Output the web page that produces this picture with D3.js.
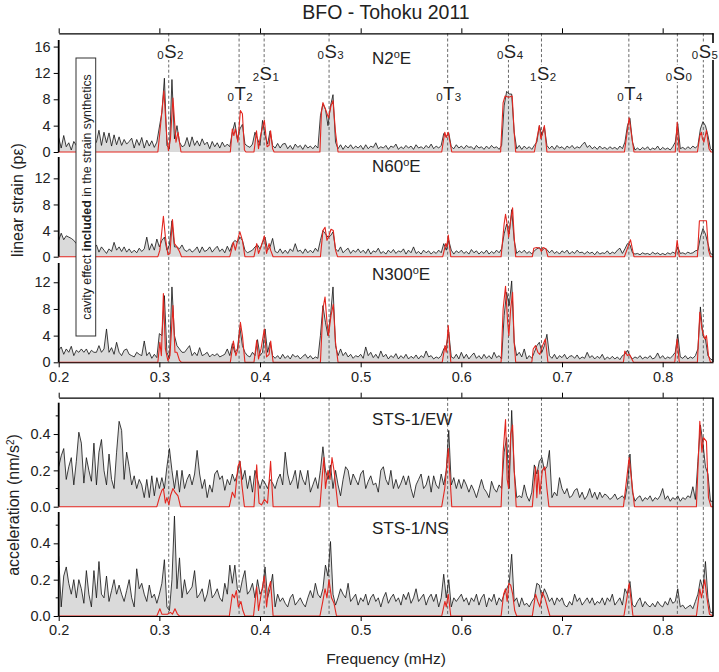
<!DOCTYPE html>
<html><head><meta charset="utf-8">
<script src="https://cdn.jsdelivr.net/npm/d3@7"></script>
<style>
body{margin:0;background:#fff}
svg{display:block}
text{font-family:"Liberation Sans",Arial,Helvetica,sans-serif;fill:#222}
</style>
</head><body>
<svg id="c" width="719" height="672"></svg>
<script>
// ---------- DATA ----------
const freqStart = 0.2, freqStep = 0.0025;   // observed spectra sampled every 0.0025 mHz from 0.2 to 0.85
const xTicks = [0.2,0.3,0.4,0.5,0.6,0.7,0.8];
const strainTicks = [0,4,8,12,16];
const strainTicks2 = [0,4,8,12];
const accTicks = [0,0.2,0.4];
const accMinor = [0.1,0.3,0.5];

const obsN2E = [
2.2,0.6,2.5,0.8,1.4,0.3,1.6,1.0,1.5,2.0,
1.2,1.8,0.9,1.6,1.1,1.5,3.3,1.0,3.0,1.4,
2.9,0.9,2.6,1.1,2.3,1.0,1.9,1.2,1.6,2.1,
0.6,1.9,1.0,2.2,0.6,1.8,0.9,1.7,0.7,1.5,
3.8,6.0,11.2,1.0,0.5,11.0,2.0,4.0,1.5,0.8,
1.0,2.2,0.8,2.3,1.0,1.7,0.9,2.0,1.1,1.5,
0.5,1.6,0.8,1.4,0.6,1.5,0.8,1.2,0.8,3.0,
4.5,2.0,3.5,4.2,1.2,0.9,0.7,1.2,3.0,2.0,
1.0,4.8,2.5,1.2,3.2,1.0,0.6,1.3,0.6,1.2,
1.3,0.5,1.0,0.4,1.2,0.7,1.0,0.4,1.1,0.6,
0.9,0.5,1.0,0.6,5.5,7.3,6.5,4.0,7.0,8.7,
1.5,0.5,1.1,0.4,1.0,0.6,1.1,0.5,0.9,0.6,
1.0,0.4,1.1,0.5,0.9,0.7,1.4,0.5,0.8,0.6,
1.0,0.4,0.9,0.7,1.2,0.4,0.8,0.5,1.0,0.6,
0.9,0.4,1.1,0.6,0.8,0.5,1.0,0.6,1.2,0.5,
0.9,0.6,1.0,2.8,2.3,2.9,0.8,0.5,1.1,0.6,
0.9,0.5,1.0,0.7,0.8,0.4,1.0,0.6,0.8,0.4,
0.9,0.5,1.0,0.6,0.8,0.4,1.0,7.0,9.2,8.8,
8.8,3.0,0.5,1.0,0.4,0.9,0.5,0.8,0.4,1.0,
1.5,4.0,2.5,3.8,1.0,0.5,0.9,0.4,1.0,0.6,
0.8,0.4,0.9,0.6,1.0,0.5,0.8,0.6,1.1,1.5,
0.7,1.0,0.5,0.8,0.4,0.9,0.5,0.7,0.4,0.8,
0.5,0.7,0.4,0.9,0.5,1.5,4.0,5.1,1.5,0.3,
0.6,0.3,0.7,0.4,0.8,0.3,0.6,0.4,0.9,0.3,
0.7,0.4,0.6,0.3,0.8,1.5,4.3,0.5,0.7,0.4,
0.8,0.5,0.9,0.6,1.0,3.5,4.6,4.0,2.5,0.5,0.2];

const obsN60E = [
2.5,3.6,2.6,3.2,3.0,2.8,2.5,2.0,1.8,1.5,
1.5,1.2,1.4,1.0,1.3,1.8,0.7,1.5,1.0,0.5,
1.2,0.8,2.2,1.0,1.5,0.8,1.5,0.7,1.2,0.6,
1.0,0.6,1.3,0.8,1.2,3.0,1.0,2.0,1.0,2.7,
1.5,2.5,3.0,1.0,1.8,5.5,1.5,1.5,1.2,1.8,
1.0,0.8,1.2,0.7,1.0,1.5,0.6,1.5,0.8,1.0,
1.5,0.7,1.2,1.6,0.8,1.2,0.6,1.6,0.8,2.0,
2.5,2.2,3.0,2.5,1.0,0.6,0.8,1.0,1.5,1.8,
1.2,2.2,3.0,1.0,1.5,2.8,0.8,0.6,1.2,0.5,
1.0,0.5,1.2,0.8,2.0,0.8,1.0,0.5,1.2,0.6,
1.0,0.6,1.3,0.8,2.5,4.0,3.5,3.0,3.2,3.8,
1.2,0.8,1.5,0.6,1.0,1.3,0.5,1.0,0.7,1.2,
0.6,1.0,0.5,1.2,0.4,0.9,0.7,1.3,0.5,0.8,
0.4,1.0,0.6,1.1,0.5,0.9,0.7,1.2,0.4,1.0,
0.6,1.5,0.5,0.8,0.4,1.0,0.6,0.9,0.4,0.8,
0.5,1.0,0.6,2.0,1.0,2.5,1.0,0.4,0.9,0.6,
1.0,0.5,0.8,0.4,1.1,0.6,0.9,0.4,0.8,0.5,
1.0,0.4,0.8,0.5,1.0,0.6,1.2,3.5,5.0,3.5,
7.2,2.5,0.5,0.9,0.6,1.0,0.5,0.8,0.4,0.9,
1.2,1.4,0.9,1.3,1.1,0.6,1.0,0.5,0.8,0.4,
0.9,0.6,1.0,0.4,0.8,0.5,1.0,0.6,0.7,0.4,
0.8,0.5,0.7,0.3,0.8,0.4,0.6,0.5,0.9,0.4,
0.7,0.5,1.0,1.3,0.5,1.2,2.0,1.8,0.6,0.4,
0.5,0.3,0.6,0.4,0.5,0.3,0.7,0.4,0.6,0.3,
0.5,0.3,0.6,0.4,0.7,0.5,1.5,0.5,0.6,0.4,
0.7,0.5,0.6,0.9,1.0,3.0,4.3,3.5,2.0,0.5,0.3];

const obsN300E = [
1.8,2.3,1.2,2.0,1.5,2.4,1.0,1.8,1.5,2.0,
1.5,2.0,1.2,1.8,1.5,1.5,2.5,1.5,2.0,5.0,
1.5,2.2,1.2,3.0,1.5,1.0,1.8,2.0,1.2,1.0,
0.8,1.5,1.2,1.0,3.2,1.0,1.5,0.6,1.2,0.7,
4.3,4.0,10.0,1.5,0.6,11.3,4.0,2.5,2.0,1.5,
1.5,2.0,2.5,1.0,1.5,1.0,2.2,1.0,1.2,1.5,
0.8,1.2,1.0,1.3,0.8,1.0,1.2,2.0,1.0,2.8,
1.5,2.0,5.2,2.5,1.5,1.0,0.8,1.5,1.0,3.4,
1.0,1.5,5.0,1.5,3.0,1.0,0.6,1.0,0.5,1.2,
0.6,1.0,0.5,1.2,0.8,1.0,0.5,0.9,1.2,0.6,
1.0,0.5,0.8,0.6,4.0,8.5,6.0,4.0,7.0,11.3,
2.5,1.0,2.0,1.0,1.5,0.8,1.2,0.6,1.0,0.8,
1.2,0.6,2.3,1.0,1.5,0.7,1.2,0.6,1.7,0.8,
1.2,0.5,1.0,0.7,1.3,0.5,1.0,0.6,1.2,0.5,
0.9,0.6,1.1,0.5,1.0,0.7,1.7,0.8,1.0,0.5,
0.8,0.6,1.0,2.0,2.5,4.5,0.8,0.6,1.2,0.5,
1.5,0.6,1.2,0.5,1.0,1.4,0.6,1.0,0.5,1.2,
0.6,1.0,0.5,1.5,0.7,1.0,0.5,7.0,10.5,8.5,
12.2,3.0,1.0,1.5,0.8,2.0,0.5,1.0,0.6,1.5,
2.5,3.0,1.5,2.5,4.2,1.0,0.6,1.2,0.5,1.0,
0.7,1.2,0.5,0.9,1.0,0.6,1.1,0.5,0.8,0.6,
1.5,0.7,1.0,0.5,0.9,0.6,1.2,0.4,0.8,0.5,
0.9,0.5,0.8,0.4,1.0,1.2,1.8,1.0,0.5,0.8,
0.6,1.0,0.5,0.8,0.6,1.0,0.5,0.7,1.4,0.6,
1.0,0.5,0.8,0.6,1.0,1.5,4.2,0.8,0.6,1.0,
0.5,0.8,0.6,1.0,2.0,8.3,4.0,3.5,1.0,0.5,0.3];

const obsEW = [
0.22,0.28,0.32,0.15,0.22,0.27,0.12,0.25,0.41,0.35,
0.13,0.27,0.20,0.14,0.35,0.12,0.30,0.37,0.20,0.12,
0.29,0.15,0.10,0.30,0.47,0.42,0.15,0.30,0.22,0.12,
0.17,0.10,0.15,0.12,0.05,0.15,0.05,0.17,0.06,0.16,
0.10,0.16,0.10,0.22,0.32,0.20,0.10,0.20,0.08,0.20,
0.10,0.15,0.18,0.12,0.18,0.31,0.18,0.10,0.15,0.05,
0.12,0.08,0.18,0.20,0.15,0.17,0.09,0.15,0.12,0.18,
0.14,0.18,0.25,0.15,0.20,0.10,0.17,0.08,0.20,0.15,
0.10,0.15,0.13,0.10,0.15,0.13,0.10,0.15,0.18,0.12,
0.30,0.18,0.12,0.15,0.20,0.10,0.20,0.15,0.12,0.20,
0.08,0.12,0.16,0.10,0.20,0.33,0.20,0.15,0.23,0.10,
0.20,0.12,0.06,0.15,0.22,0.20,0.12,0.18,0.15,0.12,
0.18,0.20,0.10,0.14,0.17,0.12,0.13,0.08,0.20,0.22,
0.15,0.12,0.20,0.10,0.15,0.10,0.13,0.17,0.12,0.17,
0.10,0.05,0.12,0.15,0.18,0.10,0.12,0.17,0.08,0.17,
0.12,0.10,0.18,0.12,0.20,0.42,0.12,0.16,0.10,0.15,
0.10,0.15,0.12,0.08,0.12,0.09,0.05,0.10,0.15,0.10,
0.08,0.05,0.14,0.10,0.08,0.12,0.10,0.30,0.38,0.10,
0.53,0.20,0.05,0.06,0.05,0.12,0.06,0.03,0.08,0.23,
0.18,0.25,0.27,0.20,0.22,0.31,0.05,0.08,0.06,0.16,
0.10,0.07,0.10,0.05,0.06,0.09,0.10,0.05,0.08,0.04,
0.06,0.10,0.05,0.08,0.04,0.08,0.05,0.07,0.06,0.04,
0.05,0.07,0.04,0.05,0.06,0.04,0.12,0.29,0.08,0.03,
0.05,0.06,0.03,0.05,0.04,0.06,0.03,0.05,0.04,0.06,
0.10,0.04,0.06,0.03,0.05,0.04,0.06,0.03,0.05,0.04,
0.06,0.05,0.11,0.04,0.25,0.45,0.35,0.22,0.18,0.03,0.03];

const obsNS = [
0.33,0.05,0.22,0.27,0.18,0.12,0.20,0.10,0.20,0.15,
0.07,0.25,0.12,0.05,0.25,0.10,0.30,0.12,0.10,0.22,
0.08,0.14,0.20,0.12,0.17,0.12,0.08,0.14,0.20,0.10,
0.05,0.26,0.15,0.18,0.12,0.08,0.17,0.10,0.12,0.07,
0.12,0.18,0.31,0.05,0.03,0.20,0.55,0.15,0.32,0.10,
0.20,0.12,0.14,0.16,0.25,0.10,0.12,0.15,0.08,0.12,
0.20,0.10,0.12,0.15,0.10,0.08,0.18,0.12,0.28,0.18,
0.28,0.15,0.13,0.20,0.25,0.12,0.14,0.18,0.10,0.20,
0.12,0.15,0.27,0.10,0.15,0.23,0.05,0.12,0.08,0.10,
0.07,0.05,0.10,0.12,0.06,0.08,0.10,0.07,0.05,0.10,
0.14,0.10,0.18,0.12,0.10,0.15,0.28,0.22,0.41,0.12,
0.06,0.10,0.15,0.12,0.10,0.18,0.08,0.10,0.12,0.06,
0.10,0.08,0.12,0.06,0.10,0.12,0.08,0.10,0.05,0.10,
0.13,0.07,0.10,0.12,0.08,0.10,0.06,0.12,0.09,0.13,
0.07,0.10,0.15,0.08,0.10,0.12,0.06,0.10,0.12,0.08,
0.12,0.05,0.10,0.23,0.10,0.20,0.05,0.10,0.08,0.10,
0.12,0.08,0.10,0.06,0.10,0.08,0.12,0.06,0.10,0.12,
0.05,0.10,0.08,0.12,0.06,0.10,0.08,0.12,0.15,0.18,
0.34,0.08,0.10,0.05,0.10,0.06,0.07,0.05,0.08,0.10,
0.18,0.17,0.10,0.15,0.12,0.08,0.10,0.06,0.10,0.08,
0.10,0.06,0.05,0.08,0.06,0.12,0.08,0.10,0.06,0.08,
0.10,0.07,0.10,0.06,0.08,0.07,0.10,0.06,0.10,0.08,
0.12,0.06,0.08,0.10,0.06,0.15,0.12,0.19,0.06,0.05,
0.08,0.10,0.05,0.08,0.06,0.05,0.07,0.05,0.08,0.06,
0.05,0.08,0.06,0.10,0.07,0.08,0.15,0.05,0.06,0.04,
0.05,0.06,0.04,0.08,0.12,0.20,0.15,0.30,0.10,0.02,0.02];

// synthetics: [frequency (mHz), amplitude]
const synN2E = [[0.2,0],[0.2985,0],[0.3005,3],[0.3045,9.3],[0.3075,2],[0.309,0.2],[0.311,2],[0.3135,8.2],[0.3165,1.5],[0.3185,3],[0.3215,0],
[0.3705,0],[0.3725,3.5],[0.374,2.5],[0.3755,3.5],[0.378,1.5],[0.3805,6.3],[0.3825,5.8],[0.3845,0.3],[0.386,0],
[0.394,0],[0.3965,3.2],[0.3985,0.5],[0.4005,2.5],[0.4043,4.8],[0.407,0.8],[0.409,1],[0.4105,3.2],[0.4125,0.5],[0.414,0],
[0.4595,0],[0.461,6],[0.4625,7.5],[0.465,6.5],[0.468,5.2],[0.4705,7],[0.4725,7.8],[0.475,3],[0.4775,0],
[0.5805,0],[0.5835,3],[0.585,2.2],[0.587,3],[0.5905,0],
[0.639,0],[0.6415,7.5],[0.6435,8.5],[0.647,8.3],[0.6505,8.5],[0.6525,3],[0.654,0],
[0.6725,0],[0.6775,4],[0.679,2],[0.6825,4],[0.685,0],
[0.762,0],[0.7667,5.2],[0.7715,0],
[0.8125,0],[0.8144,4.5],[0.8165,0],
[0.8345,0],[0.837,2.5],[0.8385,3],[0.8395,2],[0.841,1.5],[0.8435,3.3],[0.846,0.5],[0.848,0],[0.85,0]];

const synN60E = [[0.2,0],[0.2985,0],[0.3005,1],[0.304,6.2],[0.306,3],[0.3085,0.3],[0.3105,0.5],[0.313,5.7],[0.315,2],[0.3175,1.5],[0.32,0.8],[0.322,0],
[0.37,0],[0.3735,2.2],[0.3755,1],[0.3785,3],[0.38,3.8],[0.3825,2.5],[0.385,0],
[0.394,0],[0.3967,2],[0.3985,0.5],[0.401,1.5],[0.4043,3.2],[0.4065,0.5],[0.409,2],[0.4105,1],[0.413,0],
[0.46,0],[0.4625,4],[0.4646,4.5],[0.4665,2.5],[0.468,3],[0.4705,4.2],[0.4728,4],[0.475,1],[0.477,0],
[0.5815,0],[0.5845,2],[0.5855,1.5],[0.587,3.3],[0.5895,0],
[0.6395,0],[0.6425,5],[0.6439,6.5],[0.6455,5],[0.647,3],[0.6485,5],[0.6509,7.5],[0.6525,3],[0.654,0],
[0.6705,0],[0.672,1.3],[0.675,1.4],[0.678,1.3],[0.6795,0.8],[0.681,1.4],[0.684,1.2],[0.686,0],
[0.762,0],[0.7655,1.5],[0.768,2.6],[0.7715,0],
[0.8125,0],[0.8144,2.5],[0.8165,0],
[0.8345,0],[0.8365,5.5],[0.8435,5.5],[0.8455,1],[0.8475,0],[0.85,0]];

const synN300E = [[0.2,0],[0.2985,0],[0.3005,3],[0.302,1],[0.304,10.3],[0.306,2],[0.3085,0.2],[0.3105,1],[0.3135,8.5],[0.3155,1.5],[0.3175,1.5],[0.32,0.3],[0.322,0],
[0.3705,0],[0.3735,3.2],[0.376,1],[0.378,2],[0.3805,6],[0.3825,4],[0.385,0],
[0.394,0],[0.3967,3.3],[0.3985,0.5],[0.401,2],[0.4043,5],[0.4065,0.8],[0.409,1.2],[0.4106,3.2],[0.413,0],
[0.46,0],[0.4625,8],[0.4646,9.8],[0.4665,6],[0.468,4],[0.4705,7],[0.4728,8.7],[0.475,3],[0.4775,0],
[0.581,0],[0.5837,2.5],[0.585,1.5],[0.587,5.5],[0.5895,0],
[0.6395,0],[0.6415,8],[0.6439,11.4],[0.646,6],[0.6472,4],[0.649,8],[0.6509,10.5],[0.6525,3],[0.654,0],
[0.67,0],[0.6714,2],[0.6737,2.5],[0.676,1.5],[0.678,1.2],[0.6807,2.5],[0.6835,3.5],[0.686,0],
[0.761,0],[0.7624,1.7],[0.765,1],[0.767,1.2],[0.771,0],
[0.812,0],[0.8144,3.5],[0.8165,0],
[0.8345,0],[0.8369,7.5],[0.839,5],[0.8418,3.5],[0.8435,4],[0.8455,1],[0.8475,0],[0.85,0]];

const synEW = [[0.2,0],[0.2975,0],[0.3,0.05],[0.3025,0.09],[0.304,0.1],[0.306,0.02],[0.3075,0.05],[0.3095,0.01],[0.311,0.06],[0.3135,0.1],[0.3155,0.08],[0.3185,0.06],[0.321,0],
[0.3695,0],[0.3725,0.08],[0.375,0.05],[0.378,0.22],[0.3801,0.25],[0.382,0.12],[0.3845,0],
[0.394,0],[0.3967,0.23],[0.399,0.02],[0.4015,0.01],[0.4043,0.04],[0.4075,0.02],[0.4105,0.25],[0.413,0],
[0.4595,0],[0.462,0.18],[0.4635,0.27],[0.465,0.1],[0.4675,0.2],[0.4695,0.15],[0.4715,0.27],[0.4735,0.2],[0.4755,0.1],[0.4775,0],
[0.5805,0],[0.5835,0.1],[0.587,0.32],[0.5905,0],
[0.6395,0],[0.6415,0.3],[0.6439,0.48],[0.6455,0.15],[0.647,0.1],[0.649,0.4],[0.6509,0.45],[0.6525,0.2],[0.6545,0],
[0.6705,0],[0.6737,0.22],[0.675,0.05],[0.6764,0.2],[0.678,0.07],[0.6805,0.2],[0.683,0.22],[0.685,0.1],[0.687,0],
[0.761,0],[0.7667,0.27],[0.772,0],
[0.8335,0],[0.8369,0.47],[0.839,0.3],[0.8405,0.38],[0.8435,0.36],[0.8455,0.05],[0.848,0],[0.85,0]];

const synNS = [[0.2,0],[0.2975,0],[0.3005,0.04],[0.3025,0.01],[0.305,0.01],[0.308,0.01],[0.311,0.02],[0.313,0.01],[0.3155,0.04],[0.318,0.01],[0.32,0],
[0.3695,0],[0.3725,0.12],[0.3745,0.1],[0.3765,0.14],[0.3785,0.05],[0.381,0.08],[0.383,0.03],[0.385,0],
[0.3935,0],[0.3967,0.16],[0.3985,0.03],[0.4005,0.1],[0.4043,0.22],[0.4065,0.05],[0.4085,0.15],[0.4105,0.19],[0.413,0],
[0.4595,0],[0.462,0.07],[0.4646,0.15],[0.4665,0.1],[0.4685,0.2],[0.471,0.1],[0.4735,0.07],[0.476,0],
[0.5805,0],[0.5837,0.08],[0.585,0.05],[0.587,0.12],[0.5895,0],
[0.6395,0],[0.642,0.12],[0.6439,0.15],[0.6455,0.08],[0.6472,0.18],[0.649,0.17],[0.651,0.12],[0.653,0.03],[0.655,0],
[0.6705,0],[0.6737,0.12],[0.676,0.08],[0.678,0.05],[0.6805,0.13],[0.683,0.1],[0.685,0.06],[0.688,0],
[0.7615,0],[0.7645,0.1],[0.7667,0.18],[0.7705,0],
[0.8335,0],[0.8369,0.15],[0.8385,0.1],[0.8418,0.2],[0.844,0.1],[0.8465,0.01],[0.85,0]];

// normal modes: overtone n, type, degree l, frequency (mHz), label row
const modeN = ["0","0","2","0","0","0","1","0","0","0"];
const modeType = ["S","T","S","S","T","S","S","T","S","S"];
const modeL = ["2","2","1","3","3","4","2","4","0","5"];
const modeFreq = [0.3093,0.3792,0.4041,0.4686,0.5864,0.6468,0.6796,0.7664,0.8146,0.8404];
const modeRow = [0,2,1,0,2,0,1,2,1,0];

// ---------- DRAW ----------
const svg = d3.select("#c");
const x = d3.scaleLinear().domain([0.2, 0.85]).range([58.7, 713]);
const FONT = '"Liberation Sans",Arial,Helvetica,sans-serif';

const panels = [
  {obs:obsN2E,  syn:synN2E,  yb:152,   yt:40,    max:17.0,  ticks:strainTicks,  fmt:d3.format("d"),   name:["N2","o","E"],   ly:63.5},
  {obs:obsN60E, syn:synN60E, yb:256.7, yt:157,   max:15.27, ticks:strainTicks2, fmt:d3.format("d"),   name:["N60","o","E"],  ly:171.5},
  {obs:obsN300E,syn:synN300E,yb:362.3, yt:263,   max:14.89, ticks:strainTicks2, fmt:d3.format("d"),   name:["N300","o","E"], ly:280},
  {obs:obsEW,   syn:synEW,   yb:506.7, yt:402.7, max:0.5725,ticks:accTicks,     fmt:d3.format(".1f"), name:["STS-1/EW"],     ly:425, minor:accMinor},
  {obs:obsNS,   syn:synNS,   yb:616,   yt:512,   max:0.5725,ticks:accTicks,     fmt:d3.format(".1f"), name:["STS-1/NS"],     ly:533.5, minor:accMinor}
];
panels.forEach(p => { p.y = d3.scaleLinear().domain([0, p.max]).range([p.yb, p.yt]); 
  p.pts = p.obs.map((v,i)=>[freqStart + freqStep*i, v]); });

const gFill = svg.append("g"), gDash = svg.append("g"), gLine = svg.append("g"), gAxis = svg.append("g"), gText = svg.append("g");

// fills
panels.forEach(p => {
  gFill.append("path").datum(p.pts)
    .attr("d", d3.area().x(d=>x(d[0])).y0(p.y(0)).y1(d=>p.y(d[1])))
    .attr("fill", "#dadada");
});

// dashed mode lines
const groups = [[33.3, 362.3],[397.7, 616]];
groups.forEach(g => {
  gDash.selectAll(null).data(modeFreq).enter().append("line")
    .attr("x1", d=>x(d)).attr("x2", d=>x(d)).attr("y1", g[0]).attr("y2", g[1])
    .attr("stroke", "#444").attr("stroke-width", 0.8).attr("stroke-dasharray", "3,2.2");
});

// lines
panels.forEach(p => {
  const line = d3.line().x(d=>x(d[0])).y(d=>p.y(d[1]));
  gLine.append("path").datum(p.pts).attr("d", line)
    .attr("fill","none").attr("stroke","#111").attr("stroke-width",0.8).attr("stroke-linejoin","round");
  gLine.append("path").datum(p.syn).attr("d", line)
    .attr("fill","none").attr("stroke","#e3261f").attr("stroke-width",1.1).attr("stroke-linejoin","round");
});

// axes
function styleAxis(sel, fs){
  sel.selectAll("path.domain").attr("stroke","#000").attr("stroke-width",1.3);
  sel.selectAll(".tick line").attr("stroke","#000").attr("stroke-width",1);
  sel.selectAll(".tick text").attr("font-family",FONT).attr("font-size",fs).attr("fill","#222");
}
panels.forEach(p => {
  const a = gAxis.append("g").attr("transform","translate(58.7,0)")
    .call(d3.axisLeft(p.y).tickValues(p.ticks).tickFormat(p.fmt).tickSize(5).tickSizeOuter(0).tickPadding(3));
  a.select("path.domain").attr("d", `M0,${p.yb}V${p.yt}`);
  styleAxis(a, 14.5);
  a.selectAll("path.domain").attr("stroke-width",1.8);
  if (p.minor) {
    a.selectAll("line.minor").data(p.minor).enter().append("line").attr("class","minor")
      .attr("x1",-3).attr("x2",0).attr("y1",d=>p.y(d)).attr("y2",d=>p.y(d)).attr("stroke","#000").attr("stroke-width",1);
  }
});
// top axes
[33.3, 397.7].forEach(yy => {
  const a = gAxis.append("g").attr("transform",`translate(0,${yy})`)
    .call(d3.axisTop(x).tickValues(xTicks).tickFormat("").tickSize(5).tickSizeOuter(0));
  styleAxis(a, 14);
});
// bottom axes
[362.3, 616].forEach(yy => {
  const a = gAxis.append("g").attr("transform",`translate(0,${yy})`)
    .call(d3.axisBottom(x).tickValues(xTicks).tickFormat(d3.format(".1f")).tickSize(5).tickSizeOuter(0).tickPadding(4));
  styleAxis(a, 14.5);
  a.selectAll("path.domain").attr("stroke-width",1);
});
// right borders
groups.forEach(g => {
  gAxis.append("line").attr("x1",x(0.85)).attr("x2",x(0.85)).attr("y1",g[0]).attr("y2",g[1])
    .attr("stroke","#000").attr("stroke-width",1.6);
});

// panel names
panels.forEach(p => {
  const t = gText.append("text").attr("x", 372).attr("y", p.ly).attr("font-size", 17);
  t.append("tspan").text(p.name[0]);
  if (p.name.length > 1) {
    t.append("tspan").attr("font-size", 11).attr("dy", -6).text(p.name[1]);
    t.append("tspan").attr("dy", 6).text(p.name[2]);
  }
});

// mode labels
const rowBase = [58, 80, 99.5];
modeFreq.forEach((f,i) => {
  const bx = x(f) - 11.5;
  const g = gText.append("g");
  const t = g.append("text").attr("x", bx).attr("y", rowBase[modeRow[i]]).attr("font-size", 18.5);
  t.append("tspan").attr("font-size", 11.5).attr("dy", 1).text(modeN[i]);
  t.append("tspan").attr("dy", -1).attr("dx", 0.5).text(modeType[i]);
  t.append("tspan").attr("font-size", 11.5).attr("dy", 1).attr("dx", 0.5).text(modeL[i]);
  const bb = t.node().getBBox();
  g.insert("rect","text").attr("x", bb.x-1).attr("y", bb.y+2).attr("width", bb.width+2).attr("height", bb.height-4).attr("fill","#fff");
});

// title
gText.append("text").attr("x", 386).attr("y", 18.5).attr("text-anchor","middle").attr("font-size",19.5).text("BFO - Tohoku 2011");

// y axis titles
gText.append("text").attr("transform","translate(22.5,200) rotate(-90)").attr("text-anchor","middle").attr("font-size",16)
  .text("linear strain (pε)");
const acc = gText.append("text").attr("transform","translate(19,505) rotate(-90)").attr("text-anchor","middle").attr("font-size",16);
acc.append("tspan").text("acceleration (nm/s");
acc.append("tspan").attr("font-size",10).attr("dy",-5).text("2");
acc.append("tspan").attr("dy",5).text(")");

// x axis title
gText.append("text").attr("x", 386).attr("y", 664).attr("text-anchor","middle").attr("font-size",15.5).text("Frequency (mHz)");

// cavity box
gText.append("rect").attr("x",76).attr("y",58).attr("width",19.7).attr("height",278)
  .attr("fill","#fff").attr("stroke","#333").attr("stroke-width",1);
const cav = gText.append("text").attr("transform","translate(90.5,197) rotate(-90)").attr("text-anchor","middle").attr("font-size",12.4);
cav.append("tspan").text("cavity effect ");
cav.append("tspan").attr("font-weight","bold").text("included");
cav.append("tspan").text(" in the strain synthetics");
</script>
</body></html>
